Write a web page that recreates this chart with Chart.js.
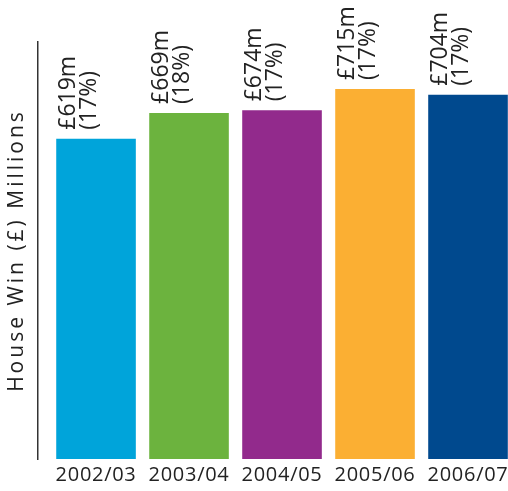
<!DOCTYPE html>
<html>
<head>
<meta charset="utf-8">
<script src="https://cdn.jsdelivr.net/npm/chart.js@4/dist/chart.umd.min.js"></script>
<style>
  html, body { margin: 0; padding: 0; background: #fff; overflow: hidden; }
  #wrap { width: 508px; height: 491px; position: relative; }
</style>
</head>
<body>
<div id="wrap"><canvas id="houseWin"></canvas></div>
<script>
const seasons = ["2002/03", "2003/04", "2004/05", "2005/06", "2006/07"];
const houseWin = [619, 669, 674, 715, 704];
const sharePct = [17, 18, 17, 17, 17];
const barColors = ["#00a4da", "#6cb33e", "#922a8c", "#fbaf33", "#00498e"];

Chart.defaults.font.family = "'Open Sans'";
Chart.defaults.color = "#222";

// the original font is wider than Open Sans, so space the letters out a bit
const spacing = {
  id: "spacing",
  beforeDraw(chart) {
    chart.ctx.letterSpacing = "3px"; // y title
  },
  afterDatasetsDraw(chart) {
    chart.ctx.letterSpacing = "0.7px"; // x ticks (drawn after datasets, ticks.z: 1)
  },
};

// rotated "£619m / (17%)" labels above each bar
const barLabels = {
  id: "barLabels",
  afterDatasetsDraw(chart) {
    const ctx = chart.ctx;
    const meta = chart.getDatasetMeta(0);
    meta.data.forEach((bar, i) => {
      const left = bar.x - bar.width / 2;
      ctx.save();
      ctx.letterSpacing = "0px";
      ctx.translate(left, bar.y - 9);
      ctx.rotate(-Math.PI / 2);
      ctx.font = "23px 'Open Sans'";
      ctx.fillStyle = "#222";
      ctx.textAlign = "left";
      ctx.textBaseline = "alphabetic";
      ctx.fillText(`£${houseWin[i]}m`, 0, 19);
      ctx.fillText(`(${sharePct[i]}%)`, 0, 40);
      ctx.restore();
    });
  },
};

new Chart(document.getElementById("houseWin"), {
  type: "bar",
  data: {
    datasets: [
      {
        data: houseWin.map((v, i) => ({ x: i, y: v })),
        backgroundColor: barColors,
        borderWidth: 0,
        categoryPercentage: 1,
        barPercentage: 0.856,
      },
    ],
  },
  options: {
    responsive: true,
    maintainAspectRatio: false,
    animation: false,
    layout: {
      padding: { top: 42, right: 0, bottom: 0, left: 0 },
    },
    scales: {
      x: {
        type: "linear",
        min: -0.624,
        max: 4.43,
        offset: false,
        grid: { display: false, drawTicks: false },
        border: { display: false },
        ticks: {
          z: 1,
          stepSize: 1,
          includeBounds: false,
          autoSkip: false,
          maxRotation: 0,
          padding: 4,
          font: { size: 20 },
          color: "#222",
          callback: (value) => seasons[value] ?? "",
        },
        afterFit: (scale) => {
          scale.paddingLeft = 0;
          scale.paddingRight = 0;
        },
      },
      y: {
        min: 0,
        max: 806,
        grid: { display: false, drawTicks: false },
        border: { display: true, color: "#333", width: 1.5 },
        ticks: { display: false },
        title: {
          display: true,
          text: "House Win (£) Millions",
          font: { size: 21 },
          color: "#222",
        },
        afterFit: (scale) => {
          scale.width = 38;
        },
      },
    },
    plugins: {
      legend: { display: false },
      tooltip: { enabled: false },
    },
  },
  plugins: [spacing, barLabels],
});
</script>
</body>
</html>
